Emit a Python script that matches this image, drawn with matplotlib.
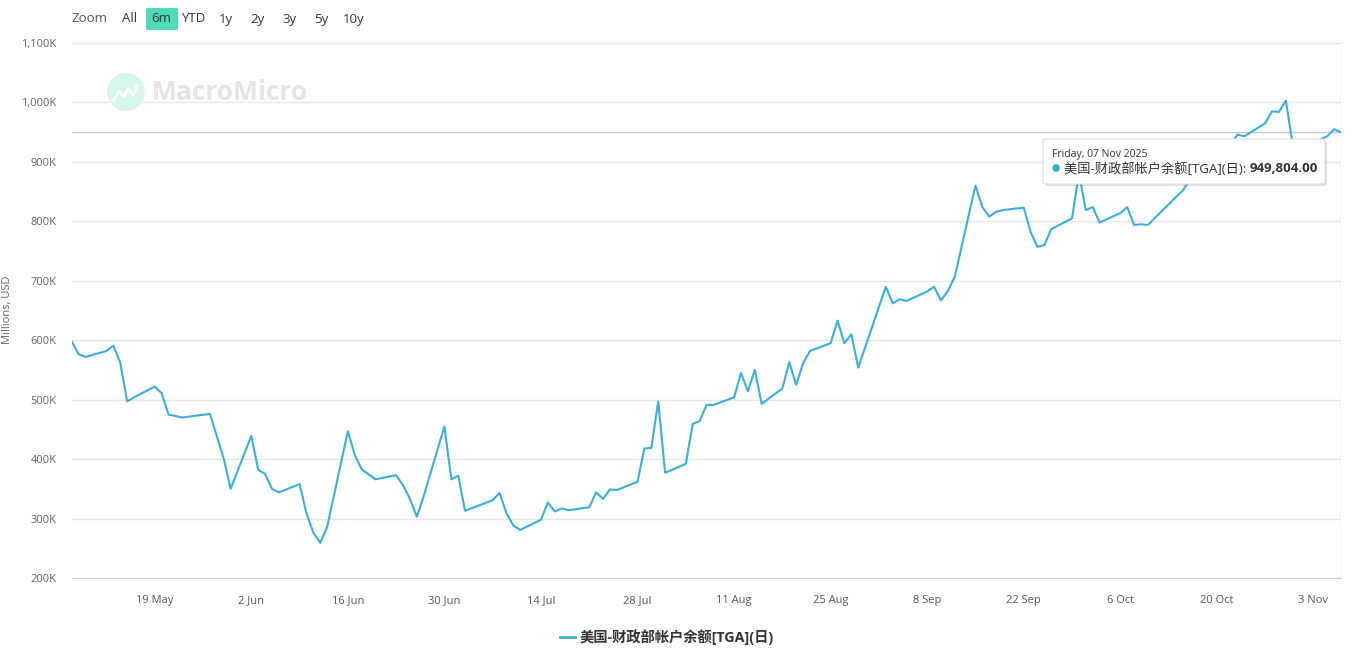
import matplotlib
matplotlib.use('Agg')
import matplotlib.pyplot as plt
import matplotlib.patches as patches
import matplotlib.dates as mdates
import matplotlib.ticker as mticker
from datetime import datetime, timedelta

plt.rcParams['font.family'] = ['Open Sans', 'Noto Sans CJK SC', 'DejaVu Sans']

# TGA daily balance, thousands of millions USD (K)
dates = [
    '2025-05-07', '2025-05-08', '2025-05-09', '2025-05-12', '2025-05-13', '2025-05-14', '2025-05-15',
    '2025-05-16', '2025-05-19', '2025-05-20', '2025-05-21', '2025-05-23', '2025-05-27', '2025-05-29',
    '2025-05-30', '2025-06-02', '2025-06-03', '2025-06-04', '2025-06-05', '2025-06-06', '2025-06-09',
    '2025-06-10', '2025-06-11', '2025-06-12', '2025-06-13', '2025-06-16', '2025-06-17', '2025-06-18',
    '2025-06-20', '2025-06-23', '2025-06-24', '2025-06-25', '2025-06-26', '2025-06-27', '2025-06-30',
    '2025-07-01', '2025-07-02', '2025-07-03', '2025-07-07', '2025-07-08', '2025-07-09', '2025-07-10',
    '2025-07-11', '2025-07-14', '2025-07-15', '2025-07-16', '2025-07-17', '2025-07-18', '2025-07-21',
    '2025-07-22', '2025-07-23', '2025-07-24', '2025-07-25', '2025-07-28', '2025-07-29', '2025-07-30',
    '2025-07-31', '2025-08-01', '2025-08-04', '2025-08-05', '2025-08-06', '2025-08-07', '2025-08-08',
    '2025-08-11', '2025-08-12', '2025-08-13', '2025-08-14', '2025-08-15', '2025-08-18', '2025-08-19',
    '2025-08-20', '2025-08-21', '2025-08-22', '2025-08-25', '2025-08-26', '2025-08-27', '2025-08-28',
    '2025-08-29', '2025-09-02', '2025-09-03', '2025-09-04', '2025-09-05', '2025-09-08', '2025-09-09',
    '2025-09-10', '2025-09-11', '2025-09-12', '2025-09-15', '2025-09-16', '2025-09-17', '2025-09-18',
    '2025-09-19', '2025-09-22', '2025-09-23', '2025-09-24', '2025-09-25', '2025-09-26', '2025-09-29',
    '2025-09-30', '2025-10-01', '2025-10-02', '2025-10-03', '2025-10-06', '2025-10-07', '2025-10-08',
    '2025-10-09', '2025-10-10', '2025-10-14', '2025-10-15', '2025-10-16', '2025-10-17', '2025-10-20',
    '2025-10-21', '2025-10-22', '2025-10-23', '2025-10-24', '2025-10-27', '2025-10-28', '2025-10-29',
    '2025-10-30', '2025-10-31', '2025-11-03', '2025-11-04', '2025-11-05', '2025-11-06', '2025-11-07',
]
values = [
    597, 576, 572, 582, 591, 562, 497,
    504, 522, 511, 475, 470, 476, 401,
    350, 439, 382, 375, 350, 344, 358,
    309, 276, 259, 286, 447, 407, 383,
    366, 373, 356, 333, 303, 338, 455,
    366, 372, 313, 331, 343, 309, 288,
    281, 298, 327, 312, 317, 314, 319,
    344, 333, 349, 348, 362, 418, 419,
    497, 377, 392, 459, 464, 491, 491,
    504, 545, 514, 550, 493, 519, 563,
    525, 561, 582, 595, 633, 595, 610,
    554, 690, 662, 669, 666, 682, 690,
    667, 683, 707, 860, 824, 808, 816,
    819, 823, 782, 757, 760, 787, 805,
    881, 819, 824, 798, 814, 824, 794,
    795, 794, 840, 851, 868, 885, 905,
    918, 928, 946, 943, 965, 985, 984,
    1003, 930, 925, 938, 943, 955, 949.804,
]
yticks = [200, 300, 400, 500, 600, 700, 800, 900, 1000, 1100]
range_buttons = ['All', '6m', 'YTD', '1y', '2y', '3y', '5y', '10y']
series_name = '美国-财政部帐户余额[TGA](日)'
tooltip_date = 'Friday, 07 Nov 2025'
tooltip_value = '949,804.00'

LINE = '#3BAEDA'
W, H = 1361, 659


def px(x, y):
    return x / W, 1 - y / H


x = [datetime.strptime(d, '%Y-%m-%d') for d in dates]

fig = plt.figure(figsize=(W / 100, H / 100), dpi=100)
ax = fig.add_axes([72 / W, 1 - 578 / H, (1341 - 72) / W, (578 - 43) / H])

# watermark logo + name
logo = patches.Ellipse(px(126, 92), 38 / W, 38 / H, transform=fig.transFigure,
                       facecolor='#d6f6ee', edgecolor='none', zorder=0)
fig.patches.append(logo)
zx = [114, 119, 124, 128, 133, 137]
zy = [100, 91, 97, 89, 95, 86]
fig.add_artist(plt.Line2D([v / W for v in zx], [1 - v / H for v in zy], color='white',
                          linewidth=2, transform=fig.transFigure, zorder=1))
fig.text(*px(152, 93), 'MacroMicro', fontsize=19, fontweight='bold',
         color='#e4e4e4', ha='left', va='center', zorder=0)

ax.plot(x, values, color=LINE, linewidth=1.5, zorder=3, solid_joinstyle='round')

ax.set_xlim(datetime(2025, 5, 7), datetime(2025, 11, 7))
ax.set_ylim(200, 1100)
ax.set_yticks(yticks)
ax.yaxis.set_major_formatter(mticker.FuncFormatter(lambda v, p: f'{int(v):,}K'))
xt = [datetime(2025, 5, 19) + timedelta(days=14 * i) for i in range(13)]
ax.set_xticks(xt)
ax.xaxis.set_major_formatter(mticker.FuncFormatter(
    lambda v, p: f'{mdates.num2date(v).day} {mdates.num2date(v):%b}'))

ax.grid(axis='y', color='#e6e6e6', linewidth=1)
ax.set_axisbelow(True)
for s in ['top', 'left', 'right']:
    ax.spines[s].set_visible(False)
ax.spines['bottom'].set_color('#cccccc')
ax.tick_params(axis='both', length=0, colors='#666666', labelsize=8)
ax.tick_params(axis='y', pad=11)
ax.tick_params(axis='x', pad=12)
for lab in ax.get_xticklabels():
    lab.set_color('#555555')

# crosshairs
ax.axhline(949.804, color='#c8c8c8', linewidth=1, zorder=2)
ax.axvline(datetime(2025, 11, 7), color='#c8c8c8', linewidth=1, zorder=2)

fig.text(*px(8, 310), 'Millions, USD', rotation=90, fontsize=8, color='#666666',
         ha='center', va='center')

# range selector
fig.text(*px(72, 19), 'Zoom', fontsize=9.5, color='#555555', ha='left', va='center')
btn_x = [122, 151, 181, 219, 250, 282, 314, 343]
for bx, lbl in zip(btn_x, range_buttons):
    if lbl == '6m':
        box = patches.FancyBboxPatch(px(146, 30), 32 / W, 22 / H, transform=fig.transFigure,
                                     boxstyle='round,pad=0,rounding_size=0.002',
                                     facecolor='#4ddbb9', edgecolor='none')
        fig.patches.append(box)
    fig.text(*px(bx, 19), lbl, fontsize=9.5, color='#333333', ha='left', va='center')

# legend
fig.add_artist(plt.Line2D([560 / W, 575 / W], [1 - 637 / H, 1 - 637 / H],
                          color=LINE, linewidth=2, transform=fig.transFigure))
fig.text(*px(580, 637), series_name, fontsize=10.3, fontweight='bold', color='#333333',
         ha='left', va='center')

# tooltip
shadow = patches.FancyBboxPatch(px(1045, 186), 282 / W, 45 / H, transform=fig.transFigure,
                                boxstyle='round,pad=0,rounding_size=0.003',
                                facecolor='#000000', alpha=0.12, edgecolor='none', zorder=9)
fig.patches.append(shadow)
tip = patches.FancyBboxPatch(px(1043, 184), 282 / W, 45 / H, transform=fig.transFigure,
                             boxstyle='round,pad=0,rounding_size=0.003',
                             facecolor='white', edgecolor='#dddddd', linewidth=0.8, zorder=10)
fig.patches.append(tip)
fig.text(*px(1052, 154), tooltip_date, fontsize=7.5, color='#333333',
         ha='left', va='center', zorder=11)
fig.text(*px(1056, 169), '●', fontsize=6, color=LINE, ha='center', va='center', zorder=11)
t1 = fig.text(*px(1064, 169), series_name + ': ', fontsize=9.5, color='#333333',
              ha='left', va='center', zorder=11)
fig.canvas.draw()
bb = t1.get_window_extent()
fig.text(bb.x1 / W, 1 - 169 / H, tooltip_value, fontsize=9.5, fontweight='bold',
         color='#333333', ha='left', va='center', zorder=11)

fig.savefig('out.png', dpi=100)
plt.close(fig)
